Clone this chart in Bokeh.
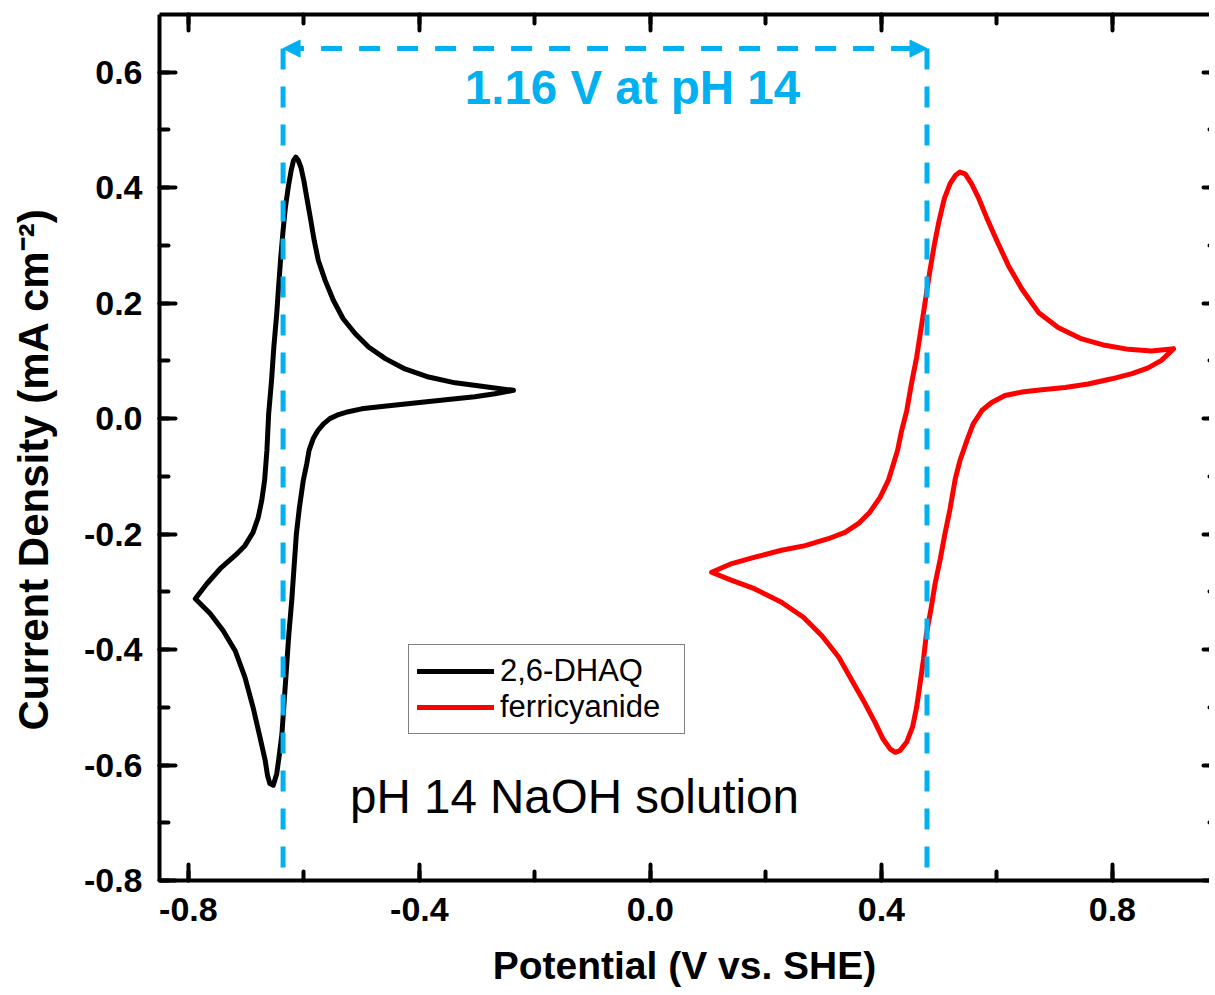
from bokeh.plotting import figure
from bokeh.models import (Range1d, LinearAxis, SingleIntervalTicker, PrintfTickFormatter,
                          CustomJSTickFormatter, Legend, LegendItem, Label, Arrow, NormalHead, Title)
from bokeh.embed import file_html
from bokeh.resources import INLINE

# ---------------- data ----------------
dhaq_potential = [-0.237, -0.269, -0.304, -0.350, -0.408, -0.465, -0.500, -0.523, -0.540, -0.555,
                  -0.566, -0.576, -0.584, -0.591, -0.595, -0.601, -0.608, -0.613, -0.617,
                  -0.621, -0.626, -0.630, -0.634, -0.638, -0.643, -0.647, -0.653, -0.659, -0.663,
                  -0.667, -0.676, -0.688, -0.702, -0.719, -0.740, -0.762, -0.788, -0.768, -0.745,
                  -0.719, -0.702, -0.688, -0.679, -0.673, -0.668, -0.664, -0.661, -0.656, -0.652,
                  -0.647, -0.643, -0.640, -0.636, -0.632, -0.627, -0.622, -0.618, -0.614, -0.610,
                  -0.605, -0.600, -0.595, -0.589, -0.582, -0.575, -0.563, -0.549, -0.532, -0.511,
                  -0.488, -0.459, -0.425, -0.384, -0.338, -0.292, -0.237]
dhaq_current = [0.049, 0.043, 0.038, 0.033, 0.027, 0.021, 0.017, 0.012, 0.007, 0.000,
                -0.009, -0.021, -0.035, -0.055, -0.078, -0.107, -0.156, -0.200, -0.257,
                -0.315, -0.373, -0.431, -0.488, -0.546, -0.586, -0.615, -0.635, -0.632, -0.618,
                -0.592, -0.552, -0.500, -0.448, -0.402, -0.367, -0.338, -0.312, -0.286, -0.260,
                -0.237, -0.220, -0.197, -0.171, -0.142, -0.107, -0.055, 0.008, 0.066, 0.124,
                0.182, 0.239, 0.280, 0.326, 0.366, 0.401, 0.430, 0.447, 0.453, 0.448,
                0.435, 0.412, 0.383, 0.349, 0.308, 0.274, 0.239, 0.205, 0.173, 0.147,
                0.124, 0.104, 0.086, 0.072, 0.062, 0.056, 0.049]

ferri_potential = [0.906, 0.885, 0.862, 0.834, 0.799, 0.758, 0.718, 0.678, 0.643, 0.614,
                   0.591, 0.574, 0.559, 0.548, 0.536, 0.528, 0.519, 0.510, 0.502, 0.493,
                   0.486, 0.478, 0.473, 0.467, 0.461, 0.454, 0.444, 0.432, 0.424, 0.415,
                   0.403, 0.389, 0.372, 0.351, 0.326, 0.297, 0.265, 0.227, 0.181, 0.141,
                   0.106, 0.141, 0.181, 0.227, 0.268, 0.308, 0.337, 0.360, 0.380, 0.398,
                   0.412, 0.421, 0.428, 0.435, 0.444, 0.452, 0.461, 0.470, 0.477, 0.484,
                   0.492, 0.500, 0.509, 0.519, 0.528, 0.536, 0.545, 0.556, 0.568, 0.582,
                   0.600, 0.620, 0.643, 0.672, 0.706, 0.747, 0.787, 0.828, 0.868, 0.906]
ferri_current = [0.121, 0.101, 0.088, 0.078, 0.069, 0.060, 0.054, 0.050, 0.046, 0.040,
                 0.028, 0.014, -0.009, -0.038, -0.073, -0.104, -0.156, -0.200, -0.243, -0.286,
                 -0.329, -0.373, -0.416, -0.459, -0.500, -0.534, -0.560, -0.575, -0.578, -0.572,
                 -0.555, -0.526, -0.494, -0.457, -0.413, -0.376, -0.344, -0.318, -0.295, -0.280,
                 -0.266, -0.251, -0.240, -0.228, -0.220, -0.208, -0.197, -0.182, -0.162, -0.136,
                 -0.107, -0.078, -0.055, -0.021, 0.014, 0.060, 0.106, 0.164, 0.210, 0.256,
                 0.303, 0.343, 0.381, 0.407, 0.421, 0.427, 0.424, 0.407, 0.383, 0.349,
                 0.308, 0.265, 0.225, 0.184, 0.158, 0.138, 0.127, 0.120, 0.117, 0.121]

series_labels = ["2,6-DHAQ", "ferricyanide"]
series_colors = ["black", "#ff0000"]

# marker lines: formal potentials and the 1.16 V gap annotation
dhaq_e = -0.636
ferri_e = 0.479
gap_y = 0.641
marker_bottom = -0.782
gap_text = "1.16 V at pH 14"
gap_text_pos = (-0.031, 0.573)
note_text = "pH 14 NaOH solution"
note_text_pos = (-0.520, -0.655)

x_label = "Potential (V vs. SHE)"
y_label = "Current Density (mA cm\u207b\u00b2)"

BLUE = "#00B0F0"
FONT = "Liberation Sans"
FRAME_W = 1050
PX_PER_UNIT = 577.5

# ---------------- figure ----------------
p = figure(frame_width=FRAME_W, frame_height=866,
           x_range=Range1d(-0.85, -0.85 + FRAME_W / PX_PER_UNIT), y_range=Range1d(-0.8, 0.7),
           output_backend="svg", toolbar_location=None,
           min_border_left=159, min_border_top=14, min_border_right=0, min_border_bottom=0)
p.grid.visible = False
p.outline_line_color = None
p.background_fill_color = "white"
p.border_fill_color = "white"

xt = SingleIntervalTicker(interval=0.4, num_minor_ticks=2)
yt = SingleIntervalTicker(interval=0.2, num_minor_ticks=2)
fmt = PrintfTickFormatter(format="%.1f")
blank = CustomJSTickFormatter(code="return ''")


def style_axis(ax, tick_in=16, minor_in=9):
    ax.axis_line_width = 4
    ax.axis_line_color = "black"
    ax.major_tick_line_width = 4
    ax.minor_tick_line_width = 4
    ax.major_tick_line_cap = "round"
    ax.minor_tick_line_cap = "round"
    ax.major_tick_in = tick_in
    ax.major_tick_out = 0
    ax.minor_tick_in = minor_in
    ax.minor_tick_out = 0
    ax.major_label_text_font = FONT
    ax.major_label_text_font_style = "bold"
    ax.major_label_text_font_size = "34px"
    ax.major_label_text_color = "black"
    ax.axis_label_text_font = FONT
    ax.axis_label_text_font_style = "bold"
    ax.axis_label_text_font_size = "39px"
    ax.axis_label_text_color = "black"


xa = p.xaxis[0]
xa.ticker = xt
xa.formatter = fmt
style_axis(xa)
xa.major_label_standoff = 17
xa.axis_label = x_label
xa.axis_label_standoff = 20

ya = p.yaxis[0]
ya.ticker = yt
ya.formatter = fmt
style_axis(ya)
ya.major_label_standoff = 17

top = LinearAxis(ticker=xt, formatter=blank, major_label_standoff=0)
style_axis(top)
p.add_layout(top, "above")

right = LinearAxis(ticker=yt, formatter=blank, major_label_standoff=0)
style_axis(right, tick_in=6, minor_in=0)
right.axis_line_color = None
p.add_layout(right, "right")

# invisible spacer between the tick labels and the y title
spacer = LinearAxis(ticker=yt, formatter=blank, major_label_standoff=0,
                    axis_line_color=None, major_tick_line_color=None,
                    minor_tick_line_color=None, major_tick_in=0, major_tick_out=24,
                    minor_tick_in=0, minor_tick_out=0, major_label_text_font_size="1px")
p.add_layout(spacer, "left")

# y axis title, placed a little below the frame centre as in the reference
ytitle = Title(text=y_label, align="left", offset=150, vertical_align="bottom", standoff=0,
               text_font=FONT, text_font_style="bold", text_font_size="42px",
               text_color="black")
p.add_layout(ytitle, "left")

# ---------------- curves ----------------
r1 = p.line(dhaq_potential, dhaq_current, line_color=series_colors[0], line_width=5,
            line_join="round", line_cap="round")
r2 = p.line(ferri_potential, ferri_current, line_color=series_colors[1], line_width=5,
            line_join="round", line_cap="round")

# ---------------- dashed markers ----------------
p.segment(x0=[dhaq_e, ferri_e], y0=[gap_y, gap_y], x1=[dhaq_e, ferri_e],
          y1=[marker_bottom, marker_bottom], line_color=BLUE, line_width=5, line_dash="21 17")
arrow = Arrow(x_start=dhaq_e, y_start=gap_y, x_end=ferri_e, y_end=gap_y,
              line_color=BLUE, line_width=5, line_dash="21 17",
              start=NormalHead(size=17, fill_color=BLUE, line_color=BLUE, line_width=1),
              end=NormalHead(size=17, fill_color=BLUE, line_color=BLUE, line_width=1))
p.add_layout(arrow)

p.add_layout(Label(x=gap_text_pos[0], y=gap_text_pos[1], text=gap_text, text_align="center",
                   text_baseline="alphabetic", text_font=FONT, text_font_style="bold",
                   text_font_size="47.5px", text_color=BLUE))
p.add_layout(Label(x=note_text_pos[0], y=note_text_pos[1], text=note_text, text_align="left",
                   text_baseline="alphabetic", text_font=FONT, text_font_size="47.5px",
                   text_color="black"))

# ---------------- legend ----------------
legend = Legend(items=[LegendItem(label=series_labels[0], renderers=[r1]),
                       LegendItem(label=series_labels[1], renderers=[r2])],
                location=(249, 146))
legend.label_text_font = FONT
legend.label_text_font_size = "31px"
legend.label_text_color = "black"
legend.glyph_width = 77
legend.glyph_height = 20
legend.label_standoff = 6
legend.label_width = 176
legend.padding = 8
legend.spacing = 0
legend.margin = 0
legend.border_line_color = "black"
legend.border_line_width = 1.5
legend.background_fill_color = "white"
legend.background_fill_alpha = 1
p.add_layout(legend)

open("out.html", "w").write(file_html(p, INLINE))
